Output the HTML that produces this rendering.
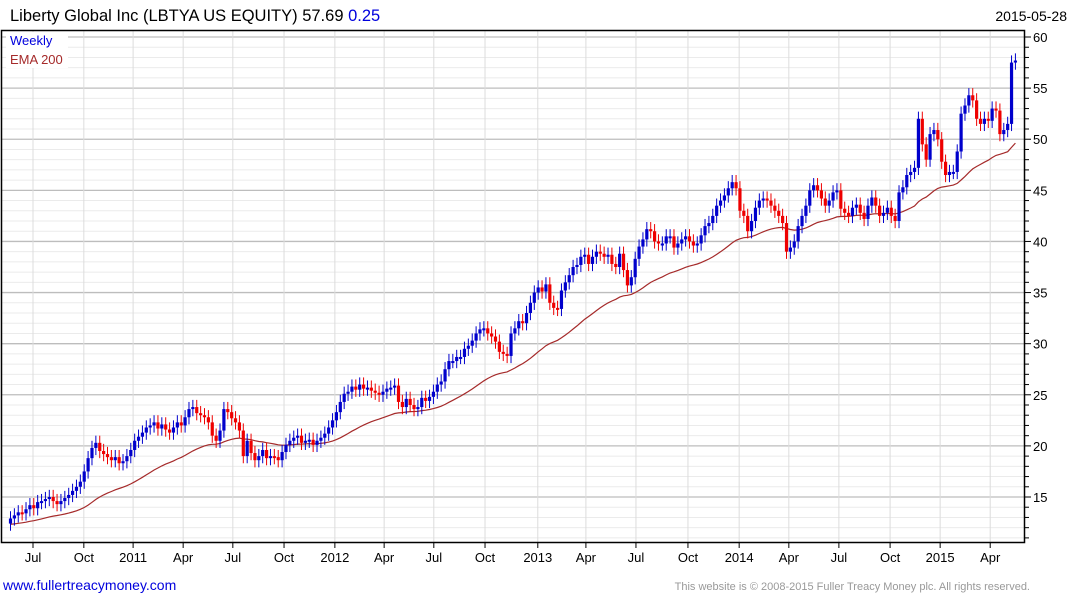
<!DOCTYPE html>
<html><head><meta charset="utf-8"><style>
body{margin:0;background:#fff;width:1075px;height:600px;overflow:hidden;font-family:"Liberation Sans",Arial,sans-serif}
svg text{font-family:"Liberation Sans",Arial,sans-serif}
</style></head><body>
<svg id="chart" width="1075" height="600" xmlns="http://www.w3.org/2000/svg">
<text x="10" y="21" font-size="16.5" fill="#000">Liberty Global Inc (LBTYA US EQUITY) 57.69 <tspan fill="#0000dd">0.25</tspan></text>
<text x="1067" y="21" font-size="14" text-anchor="end" fill="#000">2015-05-28</text>
<g id="grid"></g><g id="ema"></g><g id="candles"></g><g id="axes"></g>
<rect x="1.5" y="30.5" width="1023" height="512" fill="none" stroke="#000" stroke-width="1.5"/>
<rect x="6" y="32" width="62" height="36" fill="#fff"/>
<text x="10" y="45" font-size="13" fill="#0000dd">Weekly</text>
<text x="10" y="64" font-size="13" fill="#a52a2a">EMA 200</text>
<text x="3" y="590" font-size="14" fill="#0000dd">www.fullertreacymoney.com</text>
<text x="1030" y="590" font-size="11" text-anchor="end" fill="#999">This website is © 2008-2015 Fuller Treacy Money plc. All rights reserved.</text>
</svg>
<script>
const closes=[12.9,13.2,13.5,13.4,13.8,14.2,13.9,14.5,14.6,14.8,
15.0,14.6,14.3,14.6,14.9,15.2,15.6,16.0,16.5,17.5,
18.8,19.8,20.3,19.5,19.2,18.9,18.6,18.9,18.3,18.5,
19.0,19.6,20.5,20.9,21.3,21.8,22.0,22.3,21.7,22.1,
21.6,21.3,21.8,22.3,22.0,22.8,23.6,23.8,23.2,23.0,
22.8,22.3,21.0,20.5,21.5,23.6,23.3,22.7,22.3,21.5,
19.0,20.5,19.3,18.6,19.0,19.6,18.8,19.0,18.9,18.6,
19.4,20.1,20.5,20.8,21.0,20.3,20.5,20.6,20.1,20.5,
20.8,21.2,21.8,22.5,23.3,24.3,25.1,25.3,25.8,25.5,
26.0,25.6,25.7,25.4,25.2,25.0,25.3,25.6,25.7,25.9,
24.3,23.8,24.6,24.0,23.6,23.8,24.7,24.4,24.8,25.3,
26.0,26.3,27.5,28.3,28.3,28.7,28.7,29.5,29.8,30.3,
31.0,31.4,31.5,31.0,30.7,30.2,29.2,29.0,28.8,31.0,
31.5,32.2,32.0,33.0,34.0,35.0,35.5,35.1,35.8,34.0,
33.5,33.4,35.2,36.0,36.7,37.5,37.7,38.5,38.7,37.8,
38.5,39.0,38.8,38.5,38.7,37.8,37.5,38.8,37.2,35.7,
36.5,38.3,39.5,40.2,41.2,41.0,40.0,39.8,39.8,40.5,
40.5,39.4,39.8,40.2,40.5,40.0,39.6,39.8,40.6,41.5,
41.8,42.5,43.5,44.0,44.5,45.2,45.8,45.2,43.0,42.5,
41.0,42.0,43.3,44.0,44.2,44.0,43.5,43.0,42.5,41.8,
39.0,39.4,40.0,41.5,42.5,43.5,45.0,45.5,45.0,44.2,
43.5,44.0,44.8,45.0,43.2,42.8,42.5,43.3,43.6,42.8,
42.2,43.5,44.3,43.5,42.5,42.8,43.3,42.5,42.0,44.8,
45.3,46.5,46.8,47.2,52.0,49.5,48.0,50.5,50.9,50.0,
47.8,46.5,46.8,46.8,48.8,52.5,53.3,54.3,53.8,52.0,
51.5,52.0,51.8,53.0,52.8,50.5,50.9,51.5,57.5,57.7];
const firstOpen=12.4;
const emaSeed=12.3;
const yTicks=[15,20,25,30,35,40,45,50,55,60];
const xTickLabels=["Jul","Oct","2011","Apr","Jul","Oct","2012","Apr","Jul","Oct","2013","Apr","Jul","Oct","2014","Apr","Jul","Oct","2015","Apr"];
const xTickWeeks=[5.8,18.9,31.6,44.5,57.3,70.5,83.6,96.3,109.1,122.3,135.9,148.3,161.2,174.6,187.8,200.6,213.5,226.7,239.6,252.5];

const NS="http://www.w3.org/2000/svg";
const X=i=>10.5+3.88*i;
const Y=p=>497-(p-15)*10.222;
function mk(tag,attrs,parent){const e=document.createElementNS(NS,tag);for(const k in attrs)e.setAttribute(k,attrs[k]);parent.appendChild(e);return e;}
const grid=document.getElementById('grid'),axes=document.getElementById('axes');
for(let p=11;p<=60;p++){const y=Y(p);if(y<31||y>542)continue;
 const l=mk('line',{x1:2,x2:1024,y1:y,y2:y,stroke:p%5===0?'#bdbdbd':'#ebebeb','stroke-width':p%5===0?1.3:1},grid);
 
 
 const t=mk('line',{x1:1025,x2:p%5===0?1031:1029,y1:y,y2:y,stroke:'#000'},axes);
 
 }
yTicks.forEach(v=>{const t=mk('text',{x:1033,y:Y(v)+5,'font-size':13,fill:'#000'},axes);t.textContent=v;
 
 });
xTickWeeks.forEach((w,k)=>{const x=X(w);
 const g=mk('line',{x1:x,x2:x,y1:31,y2:542,stroke:'#dcdcdc'},grid);
 
 
 const t=mk('line',{x1:x,x2:x,y1:543,y2:548,stroke:'#000'},axes);
 
 
 const lb=mk('text',{x:x,y:562,'font-size':13,'text-anchor':'middle',fill:'#000'},axes);lb.textContent=xTickLabels[k];
 
 });
const alpha=2/41;let e=emaSeed;const pts=[];
closes.forEach((c,i)=>{e=e+alpha*(c-e);pts.push(X(i).toFixed(1)+','+Y(e).toFixed(1));});
const em=mk('polyline',{points:pts.join(' '),fill:'none',stroke:'#a52a2a','stroke-width':1.2},document.getElementById('ema'));


const cg=document.getElementById('candles');
closes.forEach((c,i)=>{const o=i?closes[i-1]:firstOpen;const up=c>=o;const col=up?'#0000cc':'#ee0000';
 const hi=Math.max(o,c)+0.7,lo=Math.min(o,c)-0.7;const x=X(i);
 const w=mk('line',{x1:x,x2:x,y1:Y(hi),y2:Y(lo),stroke:col,'stroke-width':1},cg);
 
 
 const top=Y(Math.max(o,c)),h=Math.max(2,Y(Math.min(o,c))-top);
 const b=mk('rect',{x:x-1.6,y:top,width:3.2,height:h,fill:col},cg);
 
 });
</script>
</body></html>
